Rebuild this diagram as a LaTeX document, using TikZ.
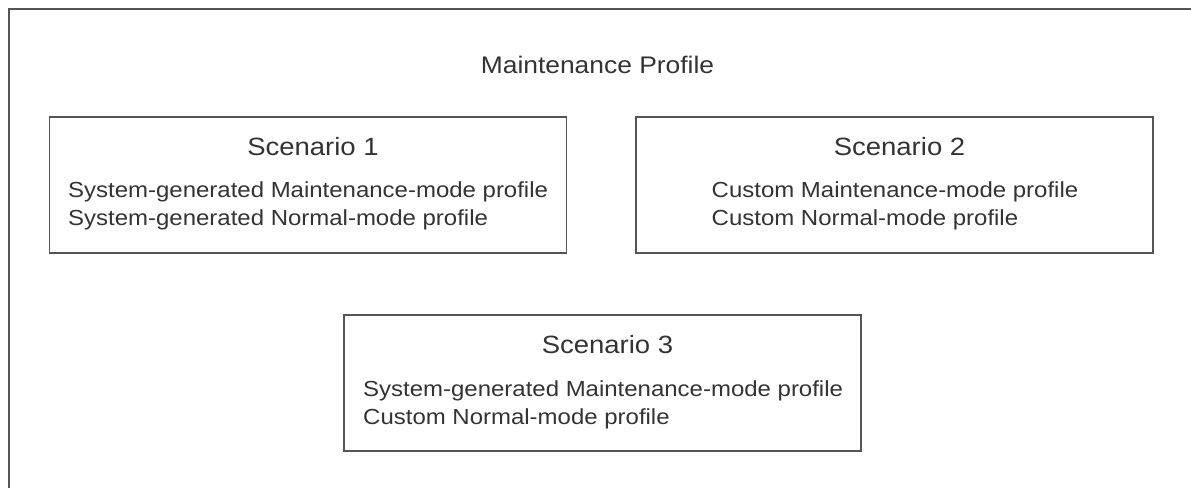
\documentclass[tikz,border=0pt]{standalone}
\usepackage{fontspec}
\setmainfont[FakeStretch=1.1]{Liberation Sans}
\definecolor{linegray}{HTML}{555555}
\definecolor{textgray}{HTML}{333333}

\begin{document}
\begin{tikzpicture}[x=1pt, y=-1pt,
	every node/.style={text=textgray, inner sep=0pt},
	scenbox/.style={rectangle, draw=linegray, line width=1.3pt, minimum width=517pt, minimum height=136pt},
	heading/.style={anchor=base, font=\fontsize{25}{30}\selectfont},
	entry/.style={anchor=base west, font=\fontsize{21.8}{26}\selectfont}]
	\useasboundingbox (0, 0) rectangle (1191, 488);
	\draw[linegray, line width=1.3pt] (9, 488) -- (9, 9) -- (1191, 9);
	\draw 	(597.5, 73)	node[anchor=base, font=\fontsize{24}{29}\selectfont] (title)
				{Maintenance Profile}

			(308, 185)	node[scenbox] (box1) {}
			(313, 155)	node[heading] (head1) {Scenario 1}
			(68, 197)	node[entry] (s1a) {System-generated Maintenance-mode profile}
			(68, 225)	node[entry] (s1b) {System-generated Normal-mode profile}

			(894.5, 185)	node[scenbox] (box2) {}
			(899.5, 155)	node[heading] (head2) {Scenario 2}
			(711.5, 197)	node[entry] (s2a) {Custom Maintenance-mode profile}
			(711.5, 225)	node[entry] (s2b) {Custom Normal-mode profile}

			(602.5, 383)	node[scenbox] (box3) {}
			(607.5, 353)	node[heading] (head3) {Scenario 3}
			(363, 396)	node[entry] (s3a) {System-generated Maintenance-mode profile}
			(363, 424)	node[entry] (s3b) {Custom Normal-mode profile}
;
\end{tikzpicture}
\end{document}
